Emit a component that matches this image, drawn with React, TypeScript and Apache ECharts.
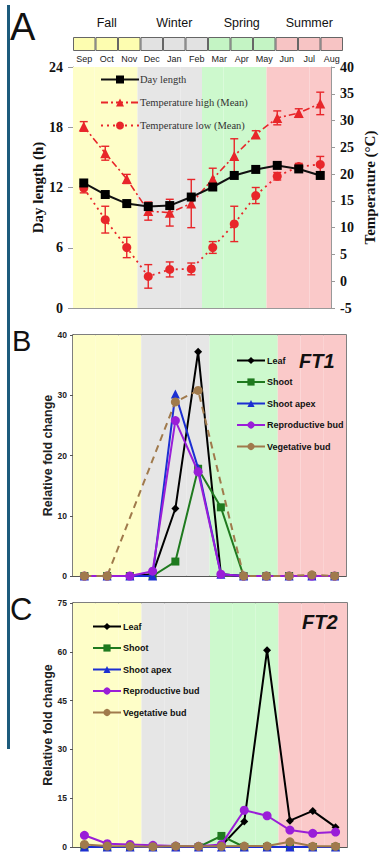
import React, { useEffect, useRef } from "react";
import * as echarts from "echarts";

const months = ["Sep", "Oct", "Nov", "Dec", "Jan", "Feb", "Mar", "Apr", "May", "Jun", "Jul", "Aug"];
const seasons = ["Fall", "Winter", "Spring", "Summer"];
const monthSeason = [0, 0, 0, 1, 1, 1, 2, 2, 2, 3, 3, 3];

const dayLength = [12.45, 11.3, 10.4, 10.1, 10.2, 11.05, 12.05, 13.2, 13.8, 14.2, 13.85, 13.2];
const tempHigh = [28.9, 23.9, 19.1, 13.1, 12.8, 14.5, 19.1, 23.4, 27.4, 30.5, 31.4, 33.2];
const tempHighErr = [0.9, 1.3, 0.85, 1.7, 2.5, 4.5, 2.0, 3.2, 0.7, 1.3, 0.8, 2.1];
const tempLow = [17.4, 11.5, 6.3, 0.9, 2.2, 2.3, 6.3, 10.7, 16.0, 19.6, 21.4, 21.8];
const tempLowErr = [0.9, 2.5, 1.9, 2.2, 1.4, 1.1, 1.1, 3.3, 1.5, 0.7, 0.6, 1.5];

const ft1Leaf = [0, 0, 0, 0.3, 11.2, 37.2, 0.3, 0, 0, 0, 0, 0];
const ft1Shoot = [0, 0, 0, 0, 2.4, 17.8, 11.4, 0, 0, 0, 0, 0];
const ft1Apex = [0, 0, 0, 0, 30.2, 17.9, 0.3, 0, 0, 0, 0, 0];
const ft1Repro = [0, 0, 0, 0.8, 25.8, 17.3, 0.3, 0, 0, 0, 0, 0];
const ft1Veg = [0, 0, null, null, 28.9, 30.8, null, 0, 0, 0, 0.2, 0];

const ft2Leaf = [0, 0, 0, 0, 0, 0, 0.4, 7.8, 60.5, 8.1, 11.1, 6.1];
const ft2Shoot = [0, 0, 0, 0, 0, 0, 3.4, 0, 0, 0, 0, 0];
const ft2Apex = [0, 0, 0, 0, 0, 0, 0, 0, 0, 0, 0, 0];
const ft2Repro = [3.6, 1.0, 0.8, 0.5, 0.3, 0.2, 0.8, 11.3, 9.6, 5.2, 4.2, 4.6];
const ft2Veg = [0.8, 0.3, 0.2, 0.1, 0.3, 0.2, 0.2, 0.3, 0.3, 1.6, 0.2, 0.2];

const tissueNames = ["Leaf", "Shoot", "Shoot apex", "Reproductive bud", "Vegetative bud"];
const tissueColors = ["#000000", "#1f7a1f", "#1c2fd2", "#9a1ed8", "#a07a4c"];
const tissueSymbols = ["diamond", "rect", "triangle", "circle", "circle"];

const headerColors = ["#fdfdb0", "#e2e2e2", "#c4f4c4", "#f7c4c4"];
const bandColors = ["#fefec8", "#e6e6e6", "#cdf9cd", "#fac9c9"];

const SERIF = "'Liberation Serif', 'Times New Roman', serif";
const SANS = "'Liberation Sans', Arial, sans-serif";
const RED = "#e8262a";

export default function App() {
  const ref = useRef<HTMLDivElement>(null);
  useEffect(() => {
    document.body.style.margin = "0";
    const chart = echarts.init(ref.current!, null, { renderer: "svg" });

    const bandSeries = (xi: number, yi: number) => ({
      type: "bar",
      xAxisIndex: xi,
      yAxisIndex: yi,
      silent: true,
      barWidth: "100%",
      z: 1,
      data: months.map((_, i) => ({ value: 1, itemStyle: { color: bandColors[monthSeason[i]] } })),
    });

    const errSeries = (mid: number[], err: number[]) => ({
      type: "custom",
      xAxisIndex: 2,
      yAxisIndex: 2,
      silent: true,
      z: 4,
      encode: { x: 0, y: [1, 2] },
      data: mid.map((v, i) => [i, v - err[i], v + err[i]]),
      renderItem: (params: any, api: any) => {
        const i = api.value(0);
        const a = api.coord([i, api.value(1)]);
        const b = api.coord([i, api.value(2)]);
        const w = 4;
        const st = { stroke: RED, lineWidth: 1.4 };
        return {
          type: "group",
          children: [
            { type: "line", shape: { x1: a[0], y1: a[1], x2: b[0], y2: b[1] }, style: st },
            { type: "line", shape: { x1: a[0] - w, y1: a[1], x2: a[0] + w, y2: a[1] }, style: st },
            { type: "line", shape: { x1: b[0] - w, y1: b[1], x2: b[0] + w, y2: b[1] }, style: st },
          ],
        };
      },
    });

    const tissueSeries = (prefix: string, xi: number, yi: number, data: (number | null)[][], dashedVeg: boolean) =>
      data.map((d, k) => ({
        type: "line",
        name: prefix + tissueNames[k],
        xAxisIndex: xi,
        yAxisIndex: yi,
        data: d,
        z: 3 + k,
        connectNulls: true,
        symbol: tissueSymbols[k],
        symbolSize: k === 0 ? 8 : k === 1 ? 8 : 9,
        showSymbol: true,
        itemStyle: { color: tissueColors[k] },
        lineStyle: {
          color: tissueColors[k],
          width: 2,
          type: dashedVeg && k === 4 ? [7, 5] : "solid",
        },
      }));

    const tissueLegend = (prefix: string, left: number, top: number, itemWidth: number) => ({
      orient: "vertical",
      left,
      top,
      itemWidth,
      itemHeight: 9,
      itemGap: 12.5,
      selectedMode: false,
      formatter: (n: string) => n.slice(prefix.length),
      textStyle: { fontFamily: SANS, fontWeight: "bold", fontSize: 9, color: "#111", padding: [0, 0, 0, -3] },
      data: tissueNames.map((n, k) => ({
        name: prefix + n,
        lineStyle: { type: "solid", color: tissueColors[k], width: 2 },
      })),
    });

    const fcAxis = (gi: number, max: number, interval: number) => ({
      type: "value",
      gridIndex: gi,
      min: 0,
      max,
      interval,
      name: "Relative fold change",
      nameLocation: "middle",
      nameRotate: 90,
      nameGap: 19,
      nameMoveOverlap: false,
      nameTextStyle: { fontFamily: SANS, fontWeight: "bold", fontSize: 12.5, color: "#222" },
      axisLine: { show: true, lineStyle: { color: "#555", width: 1 } },
      axisTick: { show: true, length: 3, lineStyle: { color: "#555" } },
      axisLabel: { fontFamily: SANS, fontWeight: "bold", fontSize: 8.5, color: "#222", margin: 6 },
      splitLine: { show: false },
    });

    const bandAxis = (gi: number) => ({ type: "value", gridIndex: gi, min: 0, max: 1, show: false, splitLine: { show: false } });

    const monthAxis = (gi: number) => ({
      type: "category",
      gridIndex: gi,
      data: months,
      axisLabel: { show: false },
      axisTick: { show: false },
      axisLine: { show: true, lineStyle: { color: "#555", width: 1 } },
    });

    chart.setOption({
      animation: false,
      tooltip: { show: false },
      grid: [
        { left: 73, top: 37, width: 270, height: 14 },
        { left: 73, top: 67, width: 272, height: 241 },
        { left: 73, top: 335, width: 273, height: 241, show: true, borderColor: "#555", borderWidth: 1.5, backgroundColor: "transparent" },
        { left: 73, top: 603, width: 274, height: 244, show: true, borderColor: "#555", borderWidth: 1.5, backgroundColor: "transparent" },
      ],
      xAxis: [
        {
          type: "category",
          gridIndex: 0,
          data: months,
          position: "bottom",
          axisLine: { show: false },
          axisTick: { show: false },
          axisLabel: { fontFamily: SANS, fontSize: 9, color: "#222", margin: 3 },
        },
        {
          type: "category",
          gridIndex: 0,
          data: seasons,
          position: "top",
          axisLine: { show: false },
          axisTick: { show: false },
          axisLabel: { fontFamily: SANS, fontSize: 12.5, color: "#111", margin: 8 },
        },
        {
          type: "category",
          gridIndex: 1,
          data: months,
          axisLabel: { show: false },
          axisTick: { show: false },
          axisLine: { show: true, lineStyle: { color: "#999", width: 1 } },
        },
        monthAxis(2),
        monthAxis(3),
      ],
      yAxis: [
        { type: "value", gridIndex: 0, min: 0, max: 1, show: false },
        {
          type: "value",
          gridIndex: 1,
          min: 0,
          max: 24,
          interval: 6,
          name: "Day length (h)",
          nameLocation: "middle",
          nameRotate: 90,
          nameGap: 28,
          nameMoveOverlap: false,
          nameTextStyle: { fontFamily: SERIF, fontWeight: "bold", fontSize: 15, color: "#111" },
          axisLine: { show: true, lineStyle: { color: "#999", width: 1 } },
          axisTick: { show: true, length: 5, lineStyle: { color: "#999" } },
          axisLabel: { fontFamily: SERIF, fontWeight: "bold", fontSize: 14, color: "#111", margin: 10 },
          splitLine: { show: false },
        },
        {
          type: "value",
          gridIndex: 1,
          min: -5,
          max: 40,
          interval: 5,
          position: "right",
          name: "Temperature (°C)",
          nameLocation: "middle",
          nameRotate: 90,
          nameGap: 31,
          nameMoveOverlap: false,
          nameTextStyle: { fontFamily: SERIF, fontWeight: "bold", fontSize: 15, color: "#111" },
          axisLine: { show: true, lineStyle: { color: "#999", width: 1 } },
          axisTick: { show: true, length: 4, lineStyle: { color: "#999" } },
          axisLabel: { fontFamily: SERIF, fontWeight: "bold", fontSize: 14, color: "#111", margin: 9 },
          splitLine: { show: false },
        },
        bandAxis(1),
        fcAxis(2, 40, 10),
        bandAxis(2),
        fcAxis(3, 75, 15),
        bandAxis(3),
      ],
      legend: [
        {
          orient: "vertical",
          left: 95,
          top: 69,
          itemWidth: 38,
          itemHeight: 10,
          itemGap: 12,
          selectedMode: false,
          textStyle: { fontFamily: SERIF, fontSize: 10.5, color: "#333", padding: [0, 0, 0, -4] },
          data: ["Day length", "Temperature high (Mean)", "Temperature low (Mean)"],
        },
        tissueLegend("B:", 231, 351, 28),
        tissueLegend("C:", 87, 617, 28),
      ],
      title: [
        { text: "FT1", left: 294, top: 346, textStyle: { fontFamily: SANS, fontStyle: "italic", fontWeight: "bold", fontSize: 20, color: "#111" } },
        { text: "FT2", left: 297, top: 607, textStyle: { fontFamily: SANS, fontStyle: "italic", fontWeight: "bold", fontSize: 20, color: "#111" } },
      ],
      graphic: [
        { type: "rect", shape: { x: 7, y: 5, width: 3, height: 744 }, style: { fill: "#1d5b7c" } },
        { type: "text", x: 10, y: 8, style: { text: "A", font: "38px 'Liberation Sans', Arial", fill: "#111" } },
        { type: "text", x: 12, y: 326, style: { text: "B", font: "29px 'Liberation Sans', Arial", fill: "#111" } },
        { type: "text", x: 10, y: 594, style: { text: "C", font: "31px 'Liberation Sans', Arial", fill: "#111" } },
      ],
      series: [
        {
          type: "bar",
          xAxisIndex: 0,
          yAxisIndex: 0,
          silent: true,
          barWidth: "100%",
          data: months.map((_, i) => ({ value: 1, itemStyle: { color: headerColors[monthSeason[i]], borderColor: "#666", borderWidth: 1 } })),
        },
        bandSeries(2, 3),
        bandSeries(3, 5),
        bandSeries(4, 7),
        errSeries(tempHigh, tempHighErr),
        errSeries(tempLow, tempLowErr),
        {
          type: "line",
          name: "Day length",
          xAxisIndex: 2,
          yAxisIndex: 1,
          data: dayLength,
          z: 6,
          symbol: "rect",
          symbolSize: 9,
          itemStyle: { color: "#000" },
          lineStyle: { color: "#111", width: 2 },
        },
        {
          type: "line",
          name: "Temperature high (Mean)",
          xAxisIndex: 2,
          yAxisIndex: 2,
          data: tempHigh,
          z: 5,
          symbol: "triangle",
          symbolSize: 10,
          itemStyle: { color: RED },
          lineStyle: { color: RED, width: 1.6, type: [7, 3, 2, 3] },
        },
        {
          type: "line",
          name: "Temperature low (Mean)",
          xAxisIndex: 2,
          yAxisIndex: 2,
          data: tempLow,
          z: 5,
          symbol: "circle",
          symbolSize: 9,
          itemStyle: { color: RED },
          lineStyle: { color: RED, width: 1.8, type: [2, 4] },
        },
        ...tissueSeries("B:", 3, 4, [ft1Leaf, ft1Shoot, ft1Apex, ft1Repro, ft1Veg], true),
        ...tissueSeries("C:", 4, 6, [ft2Leaf, ft2Shoot, ft2Apex, ft2Repro, ft2Veg], false),
      ],
    });
    return () => chart.dispose();
  }, []);
  return <div ref={ref} style={{ width: 385, height: 852 }} />;
}
